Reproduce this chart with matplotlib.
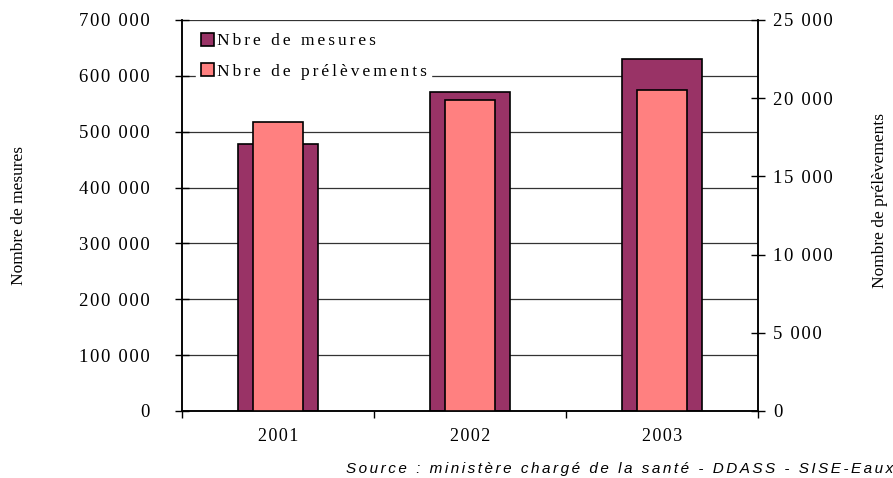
import matplotlib
matplotlib.use("Agg")
import matplotlib.pyplot as plt
from matplotlib.patches import Patch
from matplotlib.ticker import FuncFormatter

years = ["2001", "2002", "2003"]
mesures = [478000, 571000, 630000]
prelevements = [18450, 19900, 20500]

plt.rcParams['font.family'] = ['Liberation Serif', 'DejaVu Serif']

def sp(s, n=1):
    # letter spacing with hair spaces
    return ("\u200a" * n).join(s)

def fmt(v, pos):
    return sp("{:,}".format(int(v)).replace(",", " "))

fig = plt.figure(figsize=(8.93, 4.78), dpi=100)
ax = fig.add_axes([0.2038, 0.1402, 0.645, 0.818])
ax2 = ax.twinx()

x = list(range(len(years)))
ax.bar(x, mesures, width=0.415, color='#993366', edgecolor='black', linewidth=1.2, zorder=3)
ax2.bar(x, prelevements, width=0.265, color='#FF8080', edgecolor='black', linewidth=1.2, zorder=3)

ax.set_xlim(-0.5, 2.5)
ax.set_ylim(0, 700000)
ax2.set_ylim(0, 25000)
ax.set_yticks(range(0, 700001, 100000))
ax2.set_yticks(range(0, 25001, 5000))
ax.yaxis.set_major_formatter(FuncFormatter(fmt))
ax2.yaxis.set_major_formatter(FuncFormatter(fmt))

ax.set_xticks(x)
ax.set_xticklabels([sp(y) for y in years])
ax.set_xticks([-0.5, 0.5, 1.5, 2.5], minor=True)
ax.tick_params(axis='x', which='major', length=0, pad=12, labelsize=13)
ax.tick_params(axis='x', which='minor', length=5, direction='out', width=1)
ax.tick_params(axis='y', length=10, direction='inout', width=1, labelsize=13.5, pad=18)
ax2.tick_params(axis='y', length=10, direction='inout', width=1, labelsize=13.5, pad=6)

ax.grid(axis='y', color='#333333', linewidth=0.9, zorder=0)
ax.set_axisbelow(True)
for a in (ax, ax2):
    a.spines['top'].set_visible(False)
    for s in ('left', 'right', 'bottom'):
        a.spines[s].set_linewidth(1.1)

fig.text(0.021, 0.55, "Nombre de mesures", rotation=90, ha='center', va='center', fontsize=12.5)
fig.text(0.985, 0.58, "Nombre de prélèvements", rotation=90, ha='center', va='center', fontsize=12.5)

handles = [Patch(facecolor='#993366', edgecolor='black', linewidth=1.2),
           Patch(facecolor='#FF8080', edgecolor='black', linewidth=1.2)]
leg = ax2.legend(handles, [sp("Nbre de mesures", 2), sp("Nbre de prélèvements", 2)], loc='upper left',
                 bbox_to_anchor=(0.01, 1.0), frameon=True, fontsize=12.5, handlelength=0.75,
                 handleheight=0.75, handletextpad=0.2, labelspacing=0.8, borderpad=0.25)
leg.get_frame().set_edgecolor('white')
leg.get_frame().set_facecolor('white')
leg.get_frame().set_alpha(1)
leg.set_zorder(10)

fig.text(0.387, 0.004, sp("Source : ministère chargé de la santé - DDASS - SISE-Eaux", 2),
         fontsize=11, style='italic', family=['Liberation Sans', 'DejaVu Sans'], ha='left', va='bottom')

fig.savefig("out.png", dpi=100)
